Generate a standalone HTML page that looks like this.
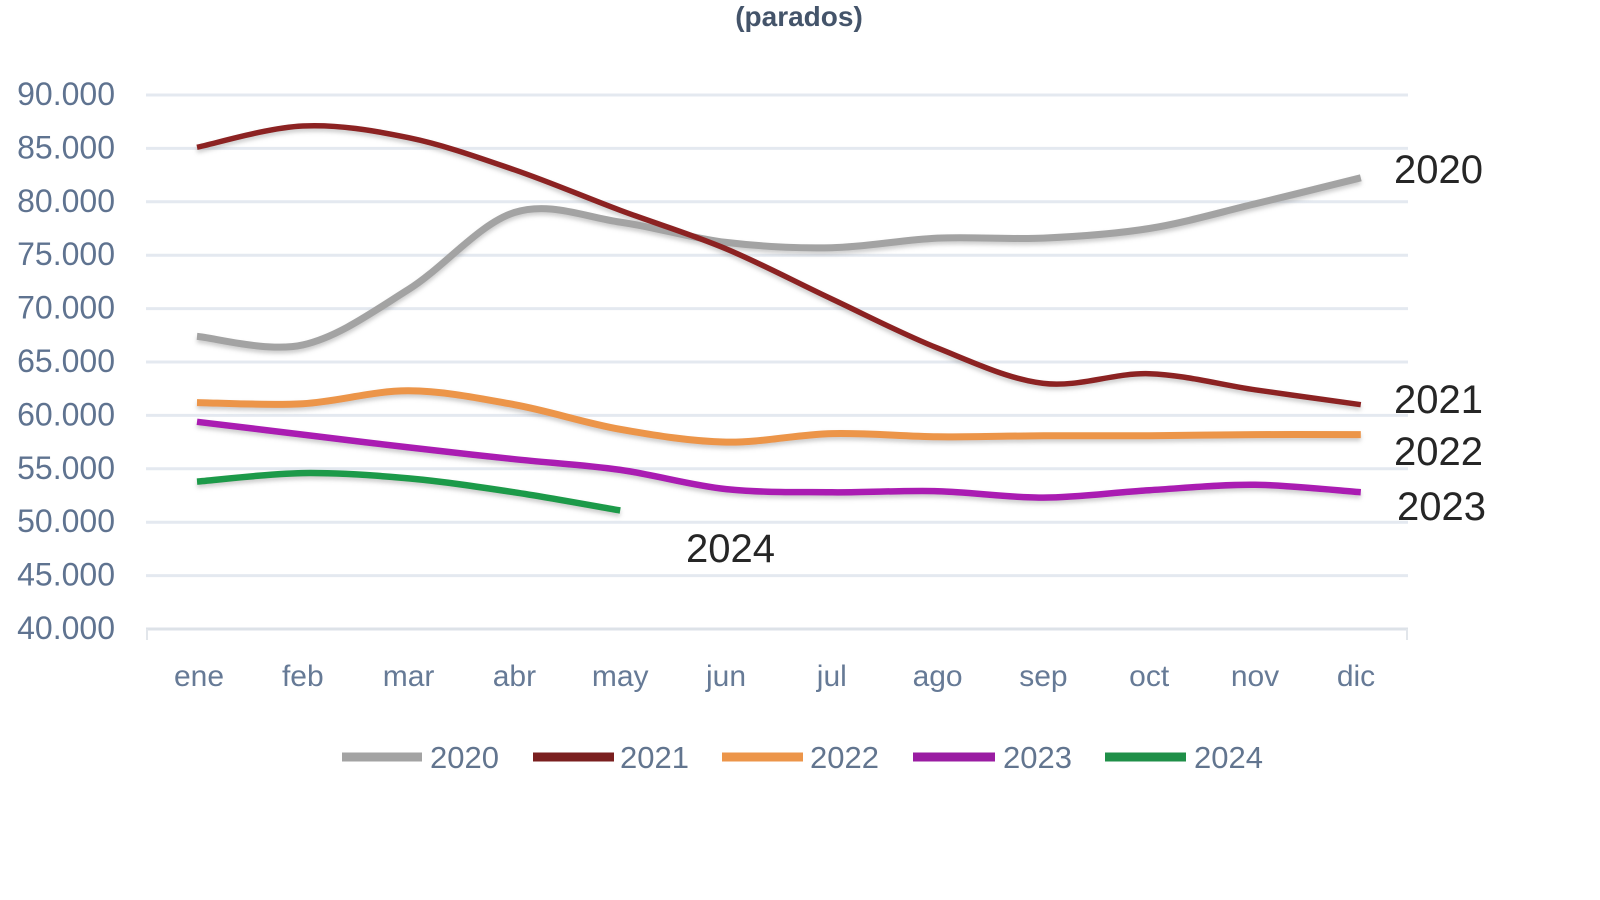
<!DOCTYPE html>
<html>
<head>
<meta charset="utf-8">
<style>
  html, body { margin: 0; padding: 0; background: #ffffff; }
  body { width: 1600px; height: 900px; overflow: hidden; }
  svg { display: block; }
  .tick { font-family: "Liberation Sans", Arial, sans-serif; font-size: 32px; fill: #5f7390; }
  .mon { font-family: "Liberation Sans", Arial, sans-serif; font-size: 30px; fill: #667a96; }
  .leg { font-family: "Liberation Sans", Arial, sans-serif; font-size: 31px; fill: #62758f; }
  .lab { font-family: "Liberation Sans", Arial, sans-serif; font-size: 40px; fill: #262626; }
  .title { font-family: "Liberation Sans", Arial, sans-serif; font-size: 28px; font-weight: bold; fill: #44546a; }
</style>
</head>
<body>
<svg width="1600" height="900" viewBox="0 0 1600 900" xmlns="http://www.w3.org/2000/svg">
  <defs>
    <filter id="sh" x="-5%" y="-20%" width="110%" height="140%">
      <feDropShadow dx="0" dy="3" stdDeviation="2" flood-color="#808080" flood-opacity="0.4"/>
    </filter>
  </defs>
  <rect width="1600" height="900" fill="#ffffff"/>

  <!-- title -->
  <text class="title" x="799" y="26" text-anchor="middle">(parados)</text>

  <!-- gridlines -->
  <g stroke="#e4e9f0" stroke-width="3">
    <line x1="146" y1="95" x2="1408" y2="95"/>
    <line x1="146" y1="148.4" x2="1408" y2="148.4"/>
    <line x1="146" y1="201.8" x2="1408" y2="201.8"/>
    <line x1="146" y1="255.2" x2="1408" y2="255.2"/>
    <line x1="146" y1="308.6" x2="1408" y2="308.6"/>
    <line x1="146" y1="362" x2="1408" y2="362"/>
    <line x1="146" y1="415.4" x2="1408" y2="415.4"/>
    <line x1="146" y1="468.8" x2="1408" y2="468.8"/>
    <line x1="146" y1="522.2" x2="1408" y2="522.2"/>
    <line x1="146" y1="575.6" x2="1408" y2="575.6"/>
  </g>
  <line x1="146" y1="629" x2="1408" y2="629" stroke="#dde2e8" stroke-width="3"/>
  <line x1="147" y1="629" x2="147" y2="640" stroke="#e2e6eb" stroke-width="2"/>
  <line x1="1407" y1="629" x2="1407" y2="640" stroke="#e2e6eb" stroke-width="2"/>

  <!-- y tick labels -->
  <g class="tick" text-anchor="end">
    <text x="115" y="105">90.000</text>
    <text x="115" y="158.4">85.000</text>
    <text x="115" y="211.8">80.000</text>
    <text x="115" y="265.2">75.000</text>
    <text x="115" y="318.6">70.000</text>
    <text x="115" y="372">65.000</text>
    <text x="115" y="425.4">60.000</text>
    <text x="115" y="478.8">55.000</text>
    <text x="115" y="532.2">50.000</text>
    <text x="115" y="585.6">45.000</text>
    <text x="115" y="639">40.000</text>
  </g>

  <!-- month labels -->
  <g class="mon" text-anchor="middle">
    <text x="199" y="686">ene</text>
    <text x="302.8" y="686">feb</text>
    <text x="408.6" y="686">mar</text>
    <text x="514.4" y="686">abr</text>
    <text x="620.2" y="686">may</text>
    <text x="726" y="686">jun</text>
    <text x="831.8" y="686">jul</text>
    <text x="937.6" y="686">ago</text>
    <text x="1043.4" y="686">sep</text>
    <text x="1149.2" y="686">oct</text>
    <text x="1255" y="686">nov</text>
    <text x="1356" y="686">dic</text>
  </g>

  <!-- series -->
  <g fill="none" stroke-linecap="butt" stroke-linejoin="round" filter="url(#sh)">
    <!-- 2020 gray -->
    <path stroke="#a3a3a3" stroke-width="7" d="M197,336.4 C214.6,337.8 267.5,352.7 302.8,344.9 C338.1,337.1 373.3,311.5 408.6,289.4 C443.9,267.3 479.1,223.7 514.4,212.5 C549.7,201.3 584.9,217.1 620.2,222.1 C655.5,227.1 690.7,238.1 726,242.4 C761.3,246.7 796.5,248.4 831.8,247.7 C867.1,247.0 902.3,239.7 937.6,238.1 C972.9,236.5 1008.1,239.7 1043.4,238.1 C1078.7,236.5 1113.9,234.2 1149.2,228.5 C1184.5,222.8 1219.7,212.35 1255,203.9 C1290.3,195.45 1343.2,182.15 1360.8,177.8"/>
    <!-- 2021 dark red -->
    <path stroke="#8c2424" stroke-width="5.5" d="M197,147.3 C214.6,143.75 267.5,127.6 302.8,126.0 C338.1,124.4 373.3,130.4 408.6,137.7 C443.9,145.0 479.1,157.7 514.4,169.8 C549.7,181.9 584.9,197.1 620.2,210.3 C655.5,223.5 690.7,234.0 726,248.8 C761.3,263.6 796.5,282.5 831.8,299.0 C867.1,315.6 902.3,334.0 937.6,348.1 C972.9,362.2 1008.1,379.1 1043.4,383.4 C1078.7,387.7 1113.9,372.6 1149.2,373.7 C1184.5,374.8 1219.7,384.6 1255,389.8 C1290.3,395.0 1343.2,402.2 1360.8,404.7"/>
    <!-- 2022 orange -->
    <path stroke="#ec9549" stroke-width="7" d="M197,402.6 C214.6,402.8 267.5,405.7 302.8,403.7 C338.1,401.7 373.3,390.6 408.6,390.8 C443.9,391.0 479.1,398.3 514.4,404.7 C549.7,411.1 584.9,423.1 620.2,429.3 C655.5,435.5 690.7,441.4 726,442.1 C761.3,442.8 796.5,434.5 831.8,433.6 C867.1,432.7 902.3,436.45 937.6,436.8 C972.9,437.15 1008.1,435.9 1043.4,435.7 C1078.7,435.5 1113.9,435.9 1149.2,435.7 C1184.5,435.5 1219.7,434.8 1255,434.6 C1290.3,434.4 1343.2,434.6 1360.8,434.6"/>
    <!-- 2023 magenta -->
    <path stroke="#aa1cb2" stroke-width="6.5" d="M197,421.8 C214.6,423.9 267.5,430.3 302.8,434.6 C338.1,438.9 373.3,443.3 408.6,447.4 C443.9,451.5 479.1,455.45 514.4,459.2 C549.7,462.95 584.9,464.9 620.2,469.9 C655.5,474.9 690.7,485.4 726,489.1 C761.3,492.8 796.5,491.95 831.8,492.3 C867.1,492.65 902.3,490.3 937.6,491.2 C972.9,492.1 1008.1,497.8 1043.4,497.6 C1078.7,497.4 1113.9,492.3 1149.2,490.2 C1184.5,488.1 1219.7,484.45 1255,484.8 C1290.3,485.15 1343.2,491.05 1360.8,492.3"/>
    <!-- 2024 green -->
    <path stroke="#1f9a4a" stroke-width="6.5" d="M197,481.6 C214.6,480.2 267.5,473.6 302.8,473.1 C338.1,472.6 373.3,475.2 408.6,478.4 C443.9,481.6 479.1,486.95 514.4,492.3 C549.7,497.65 602.6,507.5 620.2,510.5"/>
  </g>

  <!-- right-side labels -->
  <text class="lab" x="1394" y="183">2020</text>
  <text class="lab" x="1394" y="413">2021</text>
  <text class="lab" x="1394" y="465">2022</text>
  <text class="lab" x="1397" y="520">2023</text>
  <text class="lab" x="686" y="562">2024</text>

  <!-- legend -->
  <g stroke-width="9">
    <line x1="342" y1="757" x2="422" y2="757" stroke="#a3a3a3"/>
    <line x1="533" y1="757" x2="614" y2="757" stroke="#7a1f1f"/>
    <line x1="722" y1="757" x2="803" y2="757" stroke="#ec9549"/>
    <line x1="913" y1="757" x2="995" y2="757" stroke="#9a1ca2"/>
    <line x1="1105" y1="757" x2="1186" y2="757" stroke="#1f8f48"/>
  </g>
  <g class="leg">
    <text x="430" y="768">2020</text>
    <text x="620" y="768">2021</text>
    <text x="810" y="768">2022</text>
    <text x="1003" y="768">2023</text>
    <text x="1194" y="768">2024</text>
  </g>
</svg>
</body>
</html>
